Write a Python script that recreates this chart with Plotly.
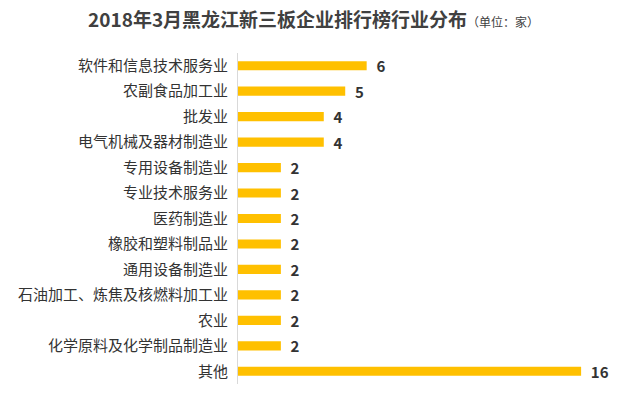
import plotly.graph_objects as go

categories = ["软件和信息技术服务业", "农副食品加工业", "批发业", "电气机械及器材制造业",
              "专用设备制造业", "专业技术服务业", "医药制造业", "橡胶和塑料制品业",
              "通用设备制造业", "石油加工、炼焦及核燃料加工业", "农业",
              "化学原料及化学制品制造业", "其他"]
values = [6, 5, 4, 4, 2, 2, 2, 2, 2, 2, 2, 2, 16]

font_family = "Noto Sans CJK SC, Noto Sans, sans-serif"

fig = go.Figure(go.Bar(
    x=values, y=categories, orientation="h",
    marker=dict(color="#FFC000", line=dict(width=0)),
    text=[str(v) for v in values], textposition="outside",
    textfont=dict(size=15, color="#333333", family=font_family),
    texttemplate="\u00a0\u00a0<b>%{text}</b>",
    constraintext="none",
    cliponaxis=False,
))

fig.update_layout(
    width=640, height=399,
    margin=dict(l=238, r=16, t=53, b=15),
    paper_bgcolor="white", plot_bgcolor="white",
    bargap=0.64,
    showlegend=False,
    title=dict(
        text="<b>2018年3月黑龙江新三板企业排行榜行业分布</b><span style='font-size:12px'>（单位：家）</span>",
        x=0.49, xanchor="center", y=0.948, yanchor="middle",
        font=dict(size=19, color="#404040", family=font_family),
    ),
    xaxis=dict(range=[0, 18], visible=False),
    yaxis=dict(autorange="reversed", showgrid=False, showline=True,
               linecolor="#D9D9D9", linewidth=1, ticks="",
               tickfont=dict(size=15, color="#333333", family=font_family),
               ticklabelstandoff=6),
    font=dict(family=font_family),
)

fig.write_html("out.html")
